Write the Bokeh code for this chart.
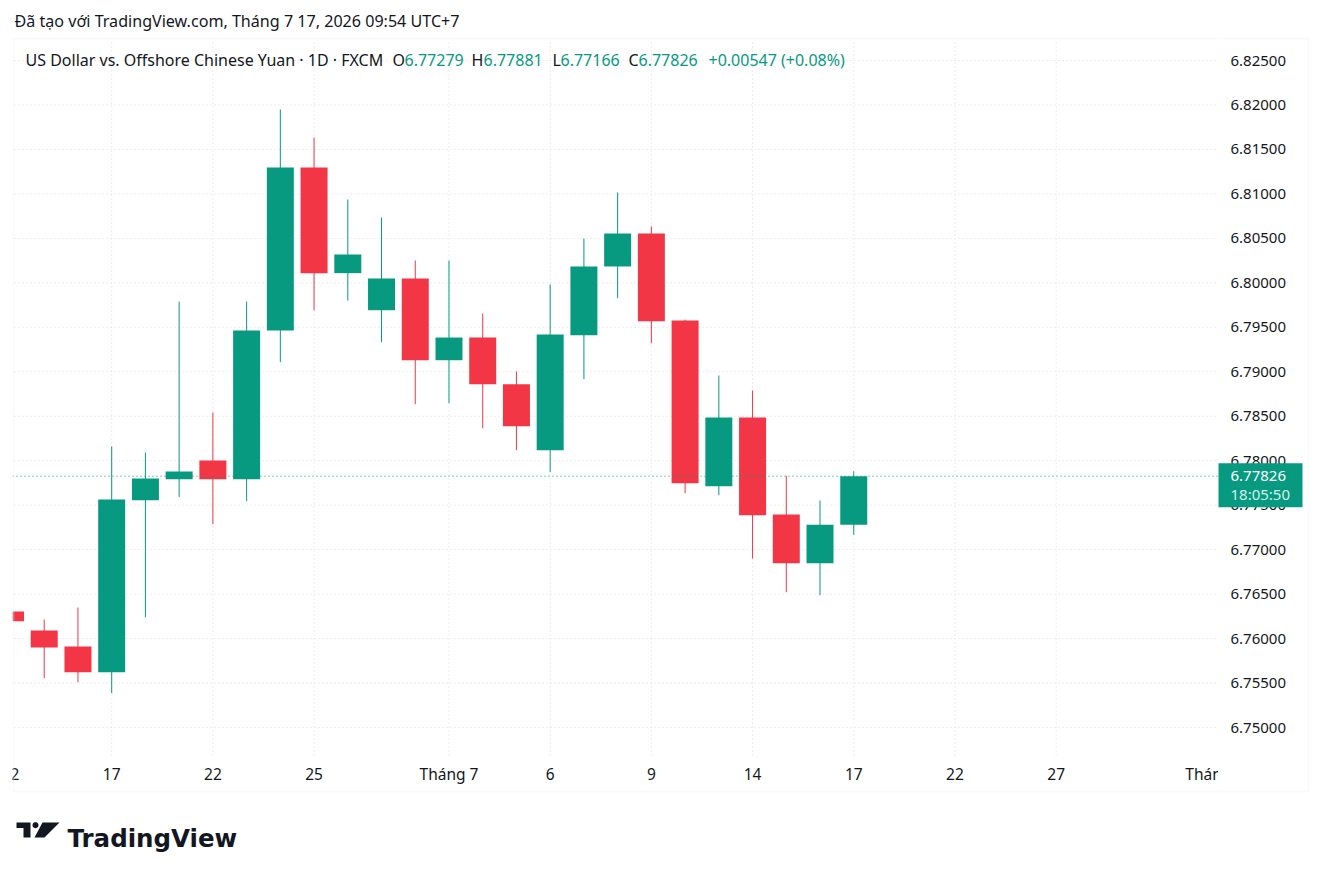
import math
from bokeh.plotting import figure
from bokeh.layouts import row
from bokeh.models import (Range1d, Span, Label, BoxAnnotation, PolyAnnotation, ColumnDataSource)
from bokeh.core.properties import value
from bokeh.embed import file_html
from bokeh.resources import INLINE

# ---------------- data ----------------
dates = ["2026-06-12", "2026-06-15", "2026-06-16", "2026-06-17", "2026-06-18", "2026-06-19",
         "2026-06-22", "2026-06-23", "2026-06-24", "2026-06-25", "2026-06-26", "2026-06-29",
         "2026-06-30", "2026-07-01", "2026-07-02", "2026-07-03", "2026-07-06", "2026-07-07",
         "2026-07-08", "2026-07-09", "2026-07-10", "2026-07-13", "2026-07-14", "2026-07-15",
         "2026-07-16", "2026-07-17"]
opens = [6.76304, 6.76090, 6.75911, 6.75622, 6.77556, 6.77792, 6.78002, 6.77792, 6.79464,
         6.81297, 6.80109, 6.79692, 6.80049, 6.79130, 6.79385, 6.78860, 6.78118, 6.79411,
         6.80184, 6.80555, 6.79576, 6.77713, 6.78486, 6.77395, 6.76847, 6.77279]
highs = [6.76480, 6.76214, 6.76349, 6.78160, 6.78092, 6.79790, 6.78542, 6.79790, 6.81949,
         6.81634, 6.80937, 6.80735, 6.80251, 6.80251, 6.79655, 6.79003, 6.79981, 6.80498,
         6.81016, 6.80633, 6.79587, 6.78958, 6.78789, 6.77830, 6.77552, 6.77881]
lows = [6.76050, 6.75554, 6.75509, 6.75386, 6.76240, 6.77590, 6.77286, 6.77545, 6.79108,
        6.79689, 6.79801, 6.79332, 6.78635, 6.78647, 6.78365, 6.78118, 6.77871, 6.78916,
        6.79827, 6.79321, 6.77634, 6.77612, 6.76900, 6.76521, 6.76488, 6.77166]
closes = [6.76195, 6.75900, 6.75622, 6.77564, 6.77800, 6.77878, 6.77792, 6.79464, 6.81297,
          6.80109, 6.80319, 6.80049, 6.79130, 6.79385, 6.78860, 6.78388, 6.79419, 6.80184,
          6.80555, 6.79569, 6.77747, 6.78486, 6.77387, 6.76847, 6.77279, 6.77826]

price_ticks = [6.750, 6.755, 6.760, 6.765, 6.770, 6.775, 6.780, 6.785,
               6.790, 6.795, 6.800, 6.805, 6.810, 6.815, 6.820, 6.825]
time_tick_idx = [0, 3, 6, 9, 13, 16, 19, 22, 25, 28, 31, 36]
time_tick_labels = ["12", "17", "22", "25", "Tháng 7", "6", "9", "14", "17", "22", "27", "Tháng 8"]

header_text = "Đã tạo với TradingView.com, Tháng 7 17, 2026 09:54 UTC+7"
symbol_text = "US Dollar vs. Offshore Chinese Yuan · 1D · FXCM"
countdown_text = "18:05:50"

# ---------------- style / layout ----------------
GREEN = "#089981"
RED = "#F23645"
DARK = "#131722"
GRID = "#d9dce3"
BORDER = "#eceef2"
FONT = "Noto Sans"

W, H = 1322, 874
FL, FR = 12, 1218            # candle pane frame (left / right edge, px)
PANE_L, PANE_T, PANE_B = 14, 39, 755      # price pane box, px
BOX_T, BOX_B, BOX_R = 38, 791, 1308       # outer chart border, px
TOP_TICK_PX = 60                          # pixel row of the highest price tick
PX_PER_UNIT = 667 / 0.075                 # vertical pixels per price unit
BAR0_PX, BAR_PX = 10, 33.73               # first bar centre and bar spacing


def price_at(py):
    return price_ticks[-1] - (py - TOP_TICK_PX) / PX_PER_UNIT


def bar_at(px):
    return (px - BAR0_PX) / BAR_PX


y_range = Range1d(price_at(H), price_at(0))
x_range = Range1d(bar_at(FL), bar_at(FR))

# ================= main (candle) pane =================
p = figure(width=FR, height=H, x_range=x_range, y_range=y_range,
           output_backend="svg", toolbar_location=None,
           x_axis_location=None, y_axis_location=None,
           min_border_left=FL, min_border_right=0, min_border_top=0, min_border_bottom=0)
p.outline_line_color = None
p.grid.visible = False
p.background_fill_color = "white"
p.border_fill_color = "white"

# horizontal grid
n_pt = len(price_ticks)
p.segment(x0=[bar_at(PANE_L)] * n_pt, y0=price_ticks, x1=[x_range.end] * n_pt, y1=price_ticks,
          line_color=GRID, line_dash="1 3", line_width=1)
# vertical grid
n_tt = len(time_tick_idx)
p.segment(x0=time_tick_idx, y0=[price_at(PANE_B)] * n_tt,
          x1=time_tick_idx, y1=[price_at(PANE_T)] * n_tt,
          line_color=GRID, line_dash="1 3", line_width=1)

# time labels (clipped by the pane like the original)
label_offsets = [0] * (n_tt - 1) + [-10]
tsrc = ColumnDataSource(dict(x=time_tick_idx, y=[price_at(773)] * n_tt,
                             text=time_tick_labels, xo=label_offsets))
p.text(x="x", y="y", text="text", x_offset="xo", source=tsrc, text_align="center",
       text_baseline="middle", text_font=value(FONT), text_font_size="15.5px",
       text_color=DARK)

# candles
idx = list(range(len(opens)))
colors = [GREEN if c >= o else RED for o, c in zip(opens, closes)]
src = ColumnDataSource(dict(x=idx, high=highs, low=lows,
                            top=[max(o, c) for o, c in zip(opens, closes)],
                            bottom=[min(o, c) for o, c in zip(opens, closes)],
                            color=colors))
p.segment(x0="x", y0="low", x1="x", y1="high", line_color="color", line_width=1, source=src)
p.vbar(x="x", width=0.8, top="top", bottom="bottom", fill_color="color",
       line_color=None, source=src)

# last price line
last = closes[-1]
p.add_layout(Span(location=last, dimension="width", line_color=GREEN,
                  line_dash="1 3", line_width=1))

# chart border (left/top/bottom part)
p.add_layout(BoxAnnotation(left=13 - FL, right=3000, top=H - BOX_T, bottom=H - BOX_B,
                           left_units="screen", right_units="screen",
                           top_units="screen", bottom_units="screen",
                           fill_alpha=0, line_color=BORDER, line_width=2))

# header
p.add_layout(Label(x=14 - FL, y=H - 20, x_units="screen", y_units="screen",
                   text=header_text, text_baseline="middle", text_font=FONT,
                   text_font_size="16.1px", text_color=DARK))

# legend line
chg = closes[-1] - closes[-2]
pct = chg / closes[-2] * 100
pieces = [(symbol_text, 25, DARK),
          ("O", 392, DARK), (f"{opens[-1]:.5f}", 404, GREEN),
          ("H", 471, DARK), (f"{highs[-1]:.5f}", 483, GREEN),
          ("L", 552, DARK), (f"{lows[-1]:.5f}", 560, GREEN),
          ("C", 628, DARK), (f"{closes[-1]:.5f}", 638, GREEN),
          (f"{chg:+.5f} ({pct:+.2f}%)", 708, GREEN)]
for txt, px, col in pieces:
    p.add_layout(Label(x=px - FL, y=H - 59, x_units="screen", y_units="screen",
                       text=txt, text_baseline="middle", text_font=FONT,
                       text_font_size="16px", text_color=col))

# TradingView logo
p.add_layout(PolyAnnotation(xs=[x - FL for x in [16, 30, 30, 23, 23, 16]],
                            ys=[H - y for y in [822, 822, 837, 837, 827.5, 827.5]],
                            xs_units="screen", ys_units="screen",
                            fill_color=DARK, fill_alpha=1, line_color=None))
circ_x = [35 + 3 * math.cos(2 * math.pi * k / 24) - FL for k in range(24)]
circ_y = [H - (824.7 + 3 * math.sin(2 * math.pi * k / 24)) for k in range(24)]
p.add_layout(PolyAnnotation(xs=circ_x, ys=circ_y, xs_units="screen", ys_units="screen",
                            fill_color=DARK, fill_alpha=1, line_color=None))
p.add_layout(PolyAnnotation(xs=[x - FL for x in [42, 59, 44, 34]],
                            ys=[H - y for y in [822, 822, 837, 837]],
                            xs_units="screen", ys_units="screen",
                            fill_color=DARK, fill_alpha=1, line_color=None))
p.add_layout(Label(x=67 - FL, y=H - 838, x_units="screen", y_units="screen",
                   text="TradingView", text_baseline="alphabetic", text_font="DejaVu Sans",
                   text_font_style="bold", text_font_size="24.5px", text_color=DARK))

# ================= price scale pane =================
PW = W - FR
q = figure(width=PW, height=H, x_range=Range1d(0, PW), y_range=y_range,
           output_backend="svg", toolbar_location=None,
           x_axis_location=None, y_axis_location=None,
           min_border_left=0, min_border_right=0, min_border_top=0, min_border_bottom=0)
q.outline_line_color = None
q.grid.visible = False
q.background_fill_color = "white"
q.border_fill_color = "white"

LABEL_X = 1230 - FR
q.text(x=[LABEL_X] * n_pt, y=price_ticks, text=[f"{t:.5f}" for t in price_ticks],
       text_align="left", text_baseline="middle", text_font=value(FONT),
       text_font_size="15px", text_color=DARK)

# last price tag
q.quad(left=[1217 - FR], right=[1302 - FR], top=[last + 13 / PX_PER_UNIT],
       bottom=[last - 31 / PX_PER_UNIT], fill_color=GREEN, line_color=None)
q.text(x=[LABEL_X], y=[last], text=[f"{last:.5f}"], text_align="left",
       text_baseline="middle", text_font=value(FONT), text_font_size="15px",
       text_color="white")
q.text(x=[LABEL_X], y=[last - 18 / PX_PER_UNIT], text=[countdown_text], text_align="left",
       text_baseline="middle", text_font=value(FONT), text_font_size="15px",
       text_color="#d4efe9")

# chart border (right part)
q.add_layout(BoxAnnotation(left=-3000, right=BOX_R - FR, top=H - BOX_T, bottom=H - BOX_B,
                           left_units="screen", right_units="screen",
                           top_units="screen", bottom_units="screen",
                           fill_alpha=0, line_color=BORDER, line_width=2))

layout = row(p, q, spacing=0)
open("out.html", "w").write(file_html(layout, INLINE))
